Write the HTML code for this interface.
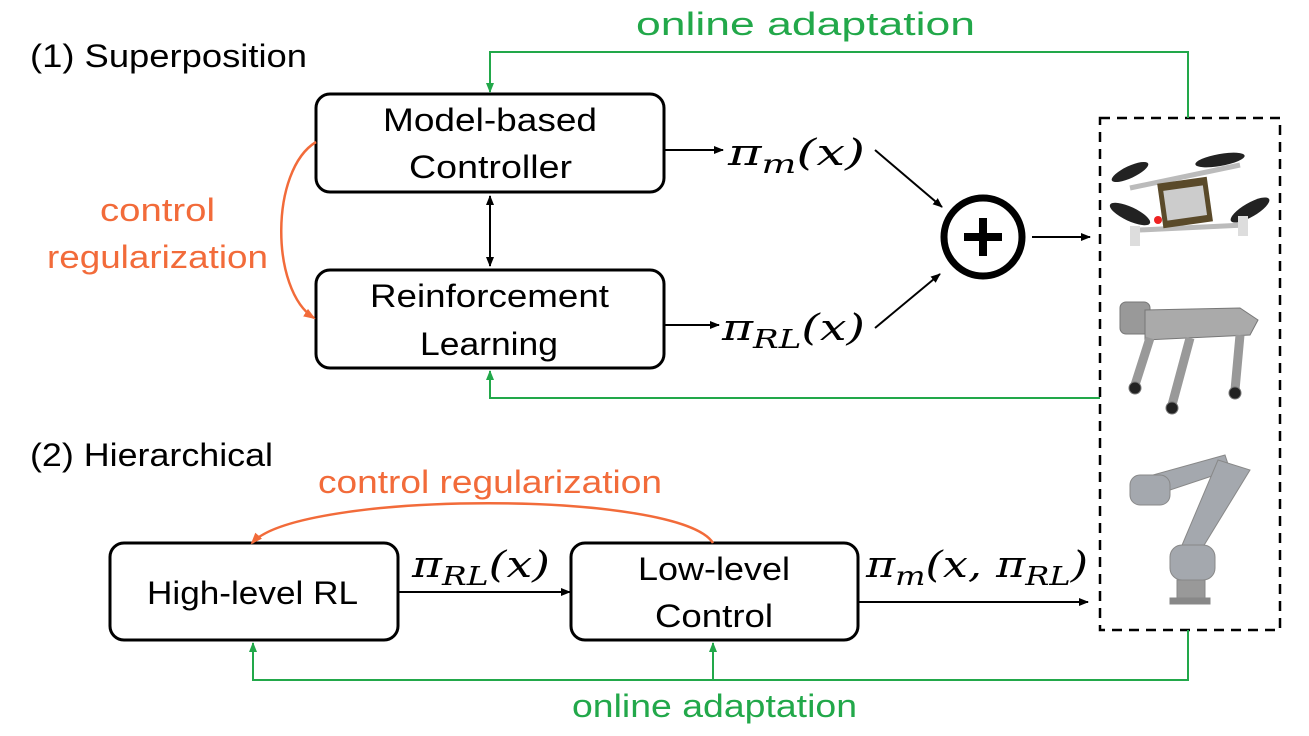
<!DOCTYPE html>
<html><head><meta charset="utf-8"><style>
body{margin:0;background:#fff;width:1309px;height:736px;overflow:hidden}
svg{display:block}
.s text{font-family:"Liberation Sans",sans-serif}
.m text{font-family:"DejaVu Serif","Liberation Serif",serif;font-style:italic}
</style></head><body>
<svg width="1309" height="736" viewBox="0 0 1309 736">
<defs>
<marker id="ak" markerWidth="10" markerHeight="8" refX="9" refY="4" orient="auto" markerUnits="userSpaceOnUse"><path d="M0,0L10,4L0,8z" fill="#000"/></marker>
<marker id="ak2" markerWidth="10" markerHeight="8" refX="9" refY="4" orient="auto-start-reverse" markerUnits="userSpaceOnUse"><path d="M0,0L10,4L0,8z" fill="#000"/></marker>
<marker id="ag" markerWidth="10" markerHeight="8" refX="9" refY="4" orient="auto" markerUnits="userSpaceOnUse"><path d="M0,0L10,4L0,8z" fill="#22a84a"/></marker>
<marker id="ao" markerWidth="12" markerHeight="9" refX="10" refY="4.5" orient="auto" markerUnits="userSpaceOnUse"><path d="M0,0L12,4.5L0,9z" fill="#f26b3a"/></marker>
</defs>
<g fill="none" stroke="#000" stroke-width="3">
<rect x="316" y="94" width="348" height="98" rx="14"/>
<rect x="316" y="270" width="348" height="98" rx="14"/>
<rect x="110" y="543" width="288" height="97" rx="14"/>
<rect x="571" y="543" width="287" height="97" rx="14"/>
</g>
<rect x="1100" y="118" width="180" height="512" fill="none" stroke="#000" stroke-width="2.5" stroke-dasharray="10,7"/>
<g class="s" font-size="32" fill="#000" lengthAdjust="spacingAndGlyphs">
<text x="383" y="131" textLength="214" lengthAdjust="spacingAndGlyphs">Model-based</text>
<text x="409" y="178" textLength="163" lengthAdjust="spacingAndGlyphs">Controller</text>
<text x="370" y="307" textLength="239" lengthAdjust="spacingAndGlyphs">Reinforcement</text>
<text x="420" y="355" textLength="138" lengthAdjust="spacingAndGlyphs">Learning</text>
<text x="147" y="604" textLength="211" lengthAdjust="spacingAndGlyphs">High-level RL</text>
<text x="638" y="580" textLength="152" lengthAdjust="spacingAndGlyphs">Low-level</text>
<text x="655" y="627" textLength="118" lengthAdjust="spacingAndGlyphs">Control</text>
<text x="30" y="67" textLength="277" lengthAdjust="spacingAndGlyphs">(1) Superposition</text>
<text x="30" y="466" textLength="243" lengthAdjust="spacingAndGlyphs">(2) Hierarchical</text>
</g>
<g stroke="#000" stroke-width="2" fill="none">
<line x1="490" y1="196" x2="490" y2="266" marker-start="url(#ak2)" marker-end="url(#ak2)"/>
<line x1="664" y1="150" x2="723" y2="150" marker-end="url(#ak)"/>
<line x1="664" y1="325" x2="719" y2="325" marker-end="url(#ak)"/>
<line x1="875" y1="150" x2="942" y2="207" marker-end="url(#ak)"/>
<line x1="875" y1="328" x2="940" y2="274" marker-end="url(#ak)"/>
<line x1="1032" y1="237" x2="1090" y2="237" marker-end="url(#ak)"/>
<line x1="398" y1="592" x2="570" y2="592" marker-end="url(#ak)"/>
<line x1="858" y1="602" x2="1088" y2="602" marker-end="url(#ak)"/>
</g>
<circle cx="983" cy="237" r="39" fill="none" stroke="#000" stroke-width="7"/>
<path d="M983,218V256M964,237H1002" stroke="#000" stroke-width="8"/>
<g class="m" font-size="36" fill="#000">
<text x="728" y="165" textLength="137" lengthAdjust="spacingAndGlyphs">π<tspan font-size="26" dy="8">m</tspan><tspan dy="-8">(x)</tspan></text>
<text x="722" y="340" textLength="143" lengthAdjust="spacingAndGlyphs">π<tspan font-size="26" dy="8">RL</tspan><tspan dy="-8">(x)</tspan></text>
<text x="412" y="577" textLength="138" lengthAdjust="spacingAndGlyphs">π<tspan font-size="26" dy="8">RL</tspan><tspan dy="-8">(x)</tspan></text>
<text x="866" y="577" textLength="222" lengthAdjust="spacingAndGlyphs">π<tspan font-size="26" dy="8">m</tspan><tspan dy="-8">(x, π</tspan><tspan font-size="26" dy="8">RL</tspan><tspan dy="-8">)</tspan></text>
</g>
<g stroke="#22a84a" stroke-width="2" fill="none">
<polyline points="1188,118 1188,52 490,52 490,92" marker-end="url(#ag)"/>
<polyline points="1100,398 490,398 490,371" marker-end="url(#ag)"/>
<polyline points="1188,630 1188,680 253,680 253,643" marker-end="url(#ag)"/>
<line x1="713" y1="680" x2="713" y2="643" marker-end="url(#ag)"/>
</g>
<g class="s" font-size="32" fill="#22a84a">
<text x="636" y="35" textLength="339" lengthAdjust="spacingAndGlyphs">online adaptation</text>
<text x="572" y="717" textLength="285" lengthAdjust="spacingAndGlyphs">online adaptation</text>
</g>
<g stroke="#f26b3a" stroke-width="2.5" fill="none">
<path d="M316,142 C270,170 270,290 314,318" marker-end="url(#ao)"/>
<path d="M713,543 C680,490 300,490 252,543" marker-end="url(#ao)"/>
</g>
<g class="s" font-size="32" fill="#f26b3a">
<text x="100" y="221" textLength="115" lengthAdjust="spacingAndGlyphs">control</text>
<text x="47" y="268" textLength="221" lengthAdjust="spacingAndGlyphs">regularization</text>
<text x="318" y="493" textLength="344" lengthAdjust="spacingAndGlyphs">control regularization</text>
</g>
<!-- drone -->
<g>
<path d="M1130,188L1240,165M1140,230L1245,225" stroke="#bbb" stroke-width="5"/>
<rect x="1160" y="180" width="50" height="45" fill="#5a4a2a" transform="rotate(-8 1185 202)"/>
<rect x="1165" y="188" width="40" height="30" fill="#ccc" transform="rotate(-8 1185 202)"/>
<ellipse cx="1130" cy="172" rx="20" ry="6" fill="#222" transform="rotate(-25 1130 172)"/>
<ellipse cx="1220" cy="160" rx="25" ry="6" fill="#222" transform="rotate(-10 1220 160)"/>
<ellipse cx="1130" cy="214" rx="22" ry="7" fill="#222" transform="rotate(25 1130 214)"/>
<ellipse cx="1250" cy="210" rx="22" ry="7" fill="#222" transform="rotate(-30 1250 210)"/>
<rect x="1130" y="226" width="10" height="20" fill="#ddd"/><rect x="1238" y="216" width="10" height="20" fill="#ddd"/>
<circle cx="1158" cy="220" r="4" fill="#e22"/>
</g>
<!-- dog -->
<g fill="#999" stroke="#777">
<rect x="1120" y="302" width="30" height="32" rx="6"/>
<path d="M1145,310L1240,308L1258,320L1250,335L1145,340z" fill="#aaa"/>
<path d="M1150,338L1135,385M1190,338L1172,405M1240,335L1235,390" stroke="#999" stroke-width="9" fill="none"/>
<circle cx="1135" cy="388" r="6" fill="#222"/><circle cx="1172" cy="408" r="6" fill="#222"/><circle cx="1235" cy="393" r="6" fill="#222"/>
</g>
<!-- arm -->
<g fill="#a4a8ae" stroke="#888">
<path d="M1135,480L1225,455L1230,470L1140,500z"/>
<path d="M1218,460L1250,470L1195,560L1180,550z"/>
<rect x="1130" y="475" width="40" height="30" rx="10"/>
<rect x="1170" y="545" width="45" height="35" rx="12"/>
<rect x="1177" y="580" width="28" height="20" fill="#999"/>
<rect x="1170" y="598" width="40" height="6" fill="#888"/>
</g>
</svg>
</body></html>
